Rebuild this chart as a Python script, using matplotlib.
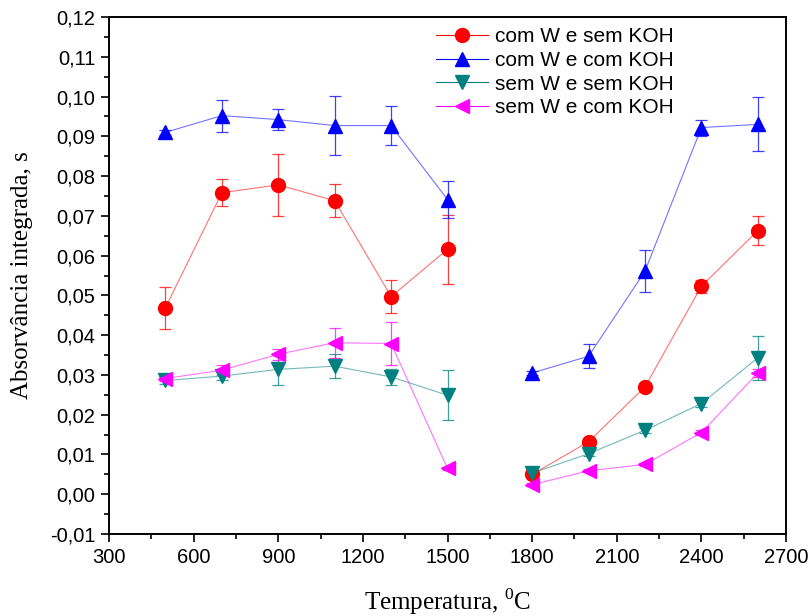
import matplotlib
matplotlib.use("Agg")
import matplotlib.pyplot as plt
from matplotlib.ticker import MultipleLocator, FuncFormatter
import numpy as np

plt.rcParams['font.family'] = ['Liberation Sans', 'DejaVu Sans']
plt.rcParams['mathtext.fontset'] = 'custom'
plt.rcParams['mathtext.rm'] = 'Liberation Serif'

# temperatures (two separate runs, gap between 1500 and 1800)
temps_low = [500, 700, 900, 1100, 1300, 1500]
temps_high = [1800, 2000, 2200, 2400, 2600]

labels = ['com W e sem KOH', 'com W e com KOH', 'sem W e sem KOH', 'sem W e com KOH']

comW_semKOH_low = [0.0469, 0.0758, 0.0778, 0.0738, 0.0497, 0.0616]
comW_semKOH_low_err = [0.0053, 0.0034, 0.0078, 0.0041, 0.0042, 0.0087]
comW_semKOH_high = [0.0050, 0.0132, 0.0270, 0.0523, 0.0663]
comW_semKOH_high_err = [0.0004, 0.0006, 0.0006, 0.0016, 0.0037]

comW_comKOH_low = [0.0910, 0.0952, 0.0942, 0.0927, 0.0927, 0.0741]
comW_comKOH_low_err = [0.0006, 0.0040, 0.0026, 0.0075, 0.0050, 0.0047]
comW_comKOH_high = [0.0305, 0.0347, 0.0561, 0.0922, 0.0930]
comW_comKOH_high_err = [0.0005, 0.0030, 0.0053, 0.0020, 0.0068]

semW_semKOH_low = [0.0286, 0.0297, 0.0314, 0.0322, 0.0295, 0.0249]
semW_semKOH_low_err = [0.0008, 0.0010, 0.0040, 0.0030, 0.0020, 0.0063]
semW_semKOH_high = [0.0053, 0.0102, 0.0161, 0.0228, 0.0343]
semW_semKOH_high_err = [0.0004, 0.0006, 0.0006, 0.0008, 0.0055]

semW_comKOH_low = [0.0291, 0.0312, 0.0352, 0.0381, 0.0379, 0.0065]
semW_comKOH_low_err = [0.0006, 0.0013, 0.0014, 0.0038, 0.0055, 0.0004]
semW_comKOH_high = [0.0024, 0.0059, 0.0075, 0.0155, 0.0305]
semW_comKOH_high_err = [0.0004, 0.0004, 0.0004, 0.0006, 0.0010]

series = [
  (comW_semKOH_low, comW_semKOH_low_err, comW_semKOH_high, comW_semKOH_high_err),
  (comW_comKOH_low, comW_comKOH_low_err, comW_comKOH_high, comW_comKOH_high_err),
  (semW_semKOH_low, semW_semKOH_low_err, semW_semKOH_high, semW_semKOH_high_err),
  (semW_comKOH_low, semW_comKOH_low_err, semW_comKOH_high, semW_comKOH_high_err),
]
colors = ['#FF0000', '#0000FF', '#008080', '#FF00FF']
markers = ['o', '^', 'v', '<']

fig = plt.figure(figsize=(8.1, 6.16), dpi=100)
ax = fig.add_axes([0.1346, 0.1331, 0.8358, 0.8393])

for (lo, lo_err, hi, hi_err), c, m, lab in zip(series, colors, markers, labels):
  for xs, ys, es in ((temps_low, lo, lo_err), (temps_high, hi, hi_err)):
    ax.errorbar(xs, ys, yerr=es, fmt='none', ecolor=c, elinewidth=0.9,
                capsize=4, capthick=0.9, alpha=0.75, zorder=2)
    ax.plot(xs, ys, color=c, lw=0.8, alpha=0.55, zorder=3)
    ax.plot(xs, ys, ls='none', marker=m, ms=10, color=c, mec=c, zorder=4)
  # legend proxy
  ax.plot([], [], color=c, lw=0.8, marker=m, ms=10, label=lab,
          markeredgecolor=c)

ax.set_xlim(300, 2700)
ax.set_ylim(-0.01, 0.12)
ax.xaxis.set_major_locator(MultipleLocator(300))
ax.xaxis.set_minor_locator(MultipleLocator(150))
ax.yaxis.set_major_locator(MultipleLocator(0.01))
ax.yaxis.set_minor_locator(MultipleLocator(0.005))
ax.yaxis.set_major_formatter(FuncFormatter(
  lambda v, p: ('%.2f' % (0.0 if abs(v) < 1e-9 else v)).replace('.', ',')))

ax.tick_params(which='major', direction='out', length=6, width=1.2, labelsize=14.5, pad=4)
ax.tick_params(which='minor', direction='out', length=3.5, width=1.2)
for s in ax.spines.values():
  s.set_linewidth(1.4)

ax.set_xlabel('Temperatura, $^{0}$C', family='Liberation Serif', fontsize=18, labelpad=14)
ax.set_ylabel('Absorvância integrada, s', family='Liberation Serif', fontsize=18, labelpad=12)

ax.legend(loc='upper left', bbox_to_anchor=(0.468, 1.0), frameon=False,
          fontsize=15, handlelength=2.5, labelspacing=0.22, handletextpad=0.3,
          borderaxespad=0.1)

plt.savefig('out.png', dpi=100)
